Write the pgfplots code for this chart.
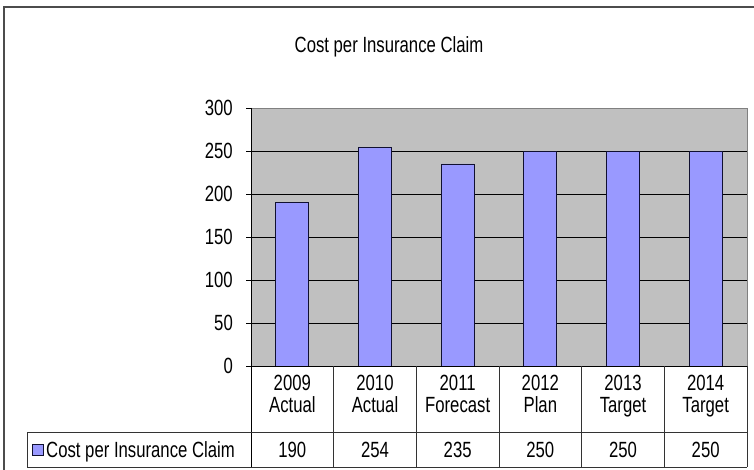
\documentclass[border=0pt]{standalone}
\usepackage{pgfplots}
\pgfplotsset{compat=1.18}
\usepackage{fontspec}
\setmainfont[FakeStretch=0.76]{Liberation Sans}
\definecolor{barblue}{HTML}{9999FF}
\definecolor{plotgray}{HTML}{C0C0C0}
\definecolor{baredge}{HTML}{101030}
\newcommand{\tabfont}{\fontsize{22}{22}\selectfont}
\begin{document}
\begin{tikzpicture}[x=1pt,y=1pt]
\useasboundingbox (0,0) rectangle (754,469);
\fill[white] (0,0) rectangle (754,469);
\draw[line width=1.5pt, black!70] (4,-10) -- (4,462) -- (770,462);
\node[font=\tabfont, anchor=base, inner sep=0pt] at (389,416) {Cost per Insurance Claim};
\begin{axis}[
  at={(251pt,103pt)}, anchor=south west,
  scale only axis, width=496pt, height=258pt,
  axis background/.style={fill=plotgray},
  axis line style={draw=black!50},
  xmin=-0.5, xmax=5.5, ymin=0, ymax=300,
  ytick={0,50,...,300}, ytick pos=left,
  ymajorgrids, grid style={black, line width=0.8pt},
  tick align=outside, major tick length=5pt,
  tick style={black, line width=0.8pt},
  x tick style={draw=none},
  xtick=data,
  xticklabels={{2009\\Actual},{2010\\Actual},{2011\\Forecast},{2012\\Plan},{2013\\Target},{2014\\Target}},
  xticklabel style={align=center, font=\tabfont, inner sep=0pt, anchor=north, yshift=-4pt},
  yticklabel style={font=\tabfont, inner sep=0pt, anchor=east, xshift=-13pt},
  /pgf/number format/assume math mode=true,
]
\addplot[ybar, bar width=33pt, fill=barblue, draw=baredge, line width=0.8pt]
  coordinates {(0,190) (1,254) (2,235) (3,250) (4,250) (5,250)};
\end{axis}
% data table grid
\draw[black, line width=0.8pt] (251,361) -- (251,2);
\draw[black, line width=0.8pt] (251,103) -- (747,103);
\draw[black!80, line width=0.8pt] (27,37) -- (747,37);
\draw[black!80, line width=0.8pt] (27,2) -- (747,2);
\draw[black!80, line width=0.8pt] (27,2) -- (27,37);
\foreach \k in {1,...,6} \draw[black!80, line width=0.8pt] (251+\k*82.667,2) -- (251+\k*82.667,103);
\filldraw[fill=barblue, draw=baredge, line width=0.6pt] (32,14) rectangle (43,25);
\node[font=\tabfont, anchor=base west, inner sep=0pt] at (46,12) {Cost per Insurance Claim};
\foreach \v [count=\i from 0] in {190,254,235,250,250,250}
  \node[font=\tabfont, anchor=base, inner sep=0pt] at (292.33+\i*82.667,12) {\v};
\end{tikzpicture}
\end{document}
